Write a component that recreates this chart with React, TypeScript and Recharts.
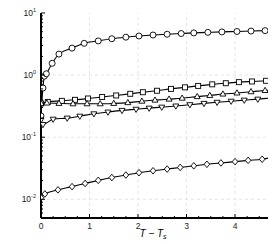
import React from "react";
import { LineChart, Line, XAxis, YAxis, ReferenceLine } from "recharts";

// ---- data ----
const circleT = [0, 0.04, 0.07, 0.11, 0.23, 0.37, 0.64, 0.89, 1.18, 1.46, 1.75, 2.02, 2.31, 2.6, 2.89, 3.15, 3.44, 3.73, 4.04, 4.33, 4.62, 4.68];
const circleV = [0.22, 0.62, 0.96, 1.05, 1.55, 2.18, 2.72, 3.25, 3.55, 3.85, 4.08, 4.26, 4.42, 4.55, 4.67, 4.78, 4.88, 4.96, 5.04, 5.12, 5.2, 5.22];

const squareT = [0, 0.14, 0.43, 0.7, 0.97, 1.26, 1.55, 1.84, 2.1, 2.39, 2.68, 2.97, 3.24, 3.53, 3.81, 4.08, 4.35, 4.64, 4.68];
const squareV = [0.35, 0.37, 0.385, 0.4, 0.42, 0.445, 0.47, 0.5, 0.53, 0.56, 0.6, 0.635, 0.67, 0.71, 0.74, 0.77, 0.79, 0.81, 0.815];

const triUpT = [0, 0.12, 0.37, 0.66, 0.95, 1.22, 1.5, 1.79, 2.08, 2.35, 2.64, 2.91, 3.22, 3.48, 3.75, 4.04, 4.33, 4.62, 4.68];
const triUpV = [0.35, 0.355, 0.35, 0.345, 0.345, 0.345, 0.35, 0.36, 0.38, 0.395, 0.41, 0.425, 0.45, 0.47, 0.495, 0.515, 0.54, 0.565, 0.57];

const triDownT = [0, 0.04, 0.25, 0.54, 0.8, 1.09, 1.38, 1.67, 1.96, 2.23, 2.49, 2.78, 3.07, 3.36, 3.63, 3.92, 4.19, 4.47, 4.68];
const triDownV = [0.19, 0.16, 0.195, 0.203, 0.218, 0.238, 0.254, 0.27, 0.282, 0.294, 0.305, 0.318, 0.334, 0.35, 0.365, 0.38, 0.395, 0.41, 0.425];

const diamondT = [0, 0.08, 0.35, 0.64, 0.91, 1.18, 1.46, 1.75, 2.02, 2.31, 2.6, 2.87, 3.15, 3.42, 3.71, 4.0, 4.27, 4.56, 4.68];
const diamondV = [0.0106, 0.0122, 0.0142, 0.016, 0.018, 0.0202, 0.0224, 0.0246, 0.0268, 0.0288, 0.0307, 0.0326, 0.0346, 0.0366, 0.0385, 0.0404, 0.0424, 0.0442, 0.046];

const xTicks = [0, 0.25, 0.5, 0.75, 1, 1.25, 1.5, 1.75, 2, 2.25, 2.5, 2.75, 3, 3.25, 3.5, 3.75, 4, 4.25, 4.5];
const xMajor = [0, 1, 2, 3, 4];
const yTicks = [
  0.006, 0.007, 0.008, 0.009, 0.01,
  0.02, 0.03, 0.04, 0.05, 0.06, 0.07, 0.08, 0.09, 0.1,
  0.2, 0.3, 0.4, 0.5, 0.6, 0.7, 0.8, 0.9, 1,
  2, 3, 4, 5, 6, 7, 8, 9, 10,
];
const yMajor = [0.01, 0.1, 1, 10];
const xDomain = [0, 4.68];
const yDomain = [0.005, 10];

const toRows = (t: number[], v: number[]) => t.map((tt, i) => ({ t: tt, v: v[i] }));

const FONT = "'Liberation Sans', Arial, Helvetica, sans-serif";

const makeDot = (shape: string) => (p: any) => {
  const { cx, cy, index, payload } = p;
  if (cx == null || cy == null || payload.t > 4.66) return <g key={index} />;
  const st = { stroke: "#000", strokeWidth: 0.9, fill: "#fff" };
  if (shape === "circle") return <circle key={index} cx={cx} cy={cy} r={3} {...st} />;
  if (shape === "square") return <rect key={index} x={cx - 2.5} y={cy - 2.5} width={5} height={5} {...st} />;
  if (shape === "up")
    return <polygon key={index} points={`${cx},${cy - 3.2} ${cx - 3},${cy + 2} ${cx + 3},${cy + 2}`} {...st} />;
  if (shape === "down")
    return <polygon key={index} points={`${cx},${cy + 3.2} ${cx - 3},${cy - 2} ${cx + 3},${cy - 2}`} {...st} />;
  return <polygon key={index} points={`${cx},${cy - 3.3} ${cx + 2.8},${cy} ${cx},${cy + 3.3} ${cx - 2.8},${cy}`} {...st} />;
};

const YTick = (props: any) => {
  const { x, y, payload } = props;
  const v = payload.value;
  const major = yMajor.some((m) => Math.abs(m - v) < 1e-9);
  const exp = Math.round(Math.log10(v));
  return (
    <g>
      <line x1={x} x2={x + (major ? 4 : 2)} y1={y} y2={y} stroke="#000" strokeWidth={1} />
      {major && (
        <text x={x - 5} y={y + 3} textAnchor="end" fontSize={8.5} fontFamily={FONT} fill="#222">
          10
          <tspan dy={-4} fontSize={5.5}>{String(exp)}</tspan>
        </text>
      )}
    </g>
  );
};

const XTick = (props: any) => {
  const { x, y, payload } = props;
  const v = payload.value;
  const major = xMajor.includes(v);
  return (
    <g>
      <line x1={x} x2={x} y1={y} y2={y - (major ? 4 : 2)} stroke="#000" strokeWidth={1} />
      {major && (
        <text x={x} y={y + 11} textAnchor="middle" fontSize={8.5} fontFamily={FONT} fill="#222">
          {String(v)}
        </text>
      )}
    </g>
  );
};

const series = [
  { t: circleT, v: circleV, shape: "circle" },
  { t: squareT, v: squareV, shape: "square" },
  { t: triUpT, v: triUpV, shape: "up" },
  { t: triDownT, v: triDownV, shape: "down" },
  { t: diamondT, v: diamondV, shape: "diamond" },
];

export default function App() {
  return (
    <div style={{ position: "absolute", left: 0, top: 0, width: 274, height: 244, background: "#fff" }}>
      <LineChart width={274} height={244} margin={{ top: 13, right: 6, bottom: 0, left: 0 }}>
        <XAxis
          xAxisId="b"
          type="number"
          dataKey="t"
          domain={xDomain}
          allowDataOverflow
          ticks={xTicks}
          interval={0}
          tickSize={0}
          tickMargin={0}
          height={26}
          tick={<XTick />}
          axisLine={{ stroke: "#000", strokeWidth: 2 }}
          tickLine={false}
        />
        <XAxis
          xAxisId="top"
          orientation="top"
          type="number"
          dataKey="t"
          domain={xDomain}
          allowDataOverflow
          height={0}
          tick={false}
          tickLine={false}
          axisLine={{ stroke: "#000", strokeWidth: 2 }}
        />
        <YAxis
          yAxisId="l"
          type="number"
          scale="log"
          domain={yDomain}
          allowDataOverflow
          ticks={yTicks}
          interval={0}
          tickSize={0}
          tickMargin={0}
          width={41}
          tick={<YTick />}
          tickLine={false}
          axisLine={{ stroke: "#000", strokeWidth: 2 }}
        />
        <YAxis
          yAxisId="r"
          orientation="right"
          type="number"
          scale="log"
          domain={yDomain}
          allowDataOverflow
          width={0}
          tick={false}
          tickLine={false}
          axisLine={{ stroke: "#000", strokeWidth: 2 }}
        />
        {xMajor.filter((m) => m > 0).map((m) => (
          <ReferenceLine key={"gx" + m} xAxisId="b" yAxisId="l" x={m} stroke="#e4e4e4" strokeDasharray="3 3" strokeWidth={1} />
        ))}
        {yMajor.filter((m) => m < 10).map((m) => (
          <ReferenceLine key={"gy" + m} xAxisId="b" yAxisId="l" y={m} stroke="#e4e4e4" strokeDasharray="3 3" strokeWidth={1} />
        ))}
        {series.map((s) => (
          <Line
            key={s.shape}
            xAxisId="b"
            yAxisId="l"
            data={toRows(s.t, s.v)}
            dataKey="v"
            type="monotone"
            stroke="#000"
            strokeWidth={1.1}
            dot={makeDot(s.shape)}
            activeDot={false}
            isAnimationActive={false}
          />
        ))}
      </LineChart>
      <div
        style={{
          position: "absolute",
          left: 0,
          width: 306,
          top: 229,
          textAlign: "center",
          fontFamily: FONT,
          fontStyle: "italic",
          fontSize: 10,
          lineHeight: "10px",
          color: "#000",
          whiteSpace: "nowrap",
        }}
      >
        T − T<sub style={{ fontSize: 7, verticalAlign: "-2px" }}>s</sub>
      </div>
    </div>
  );
}
